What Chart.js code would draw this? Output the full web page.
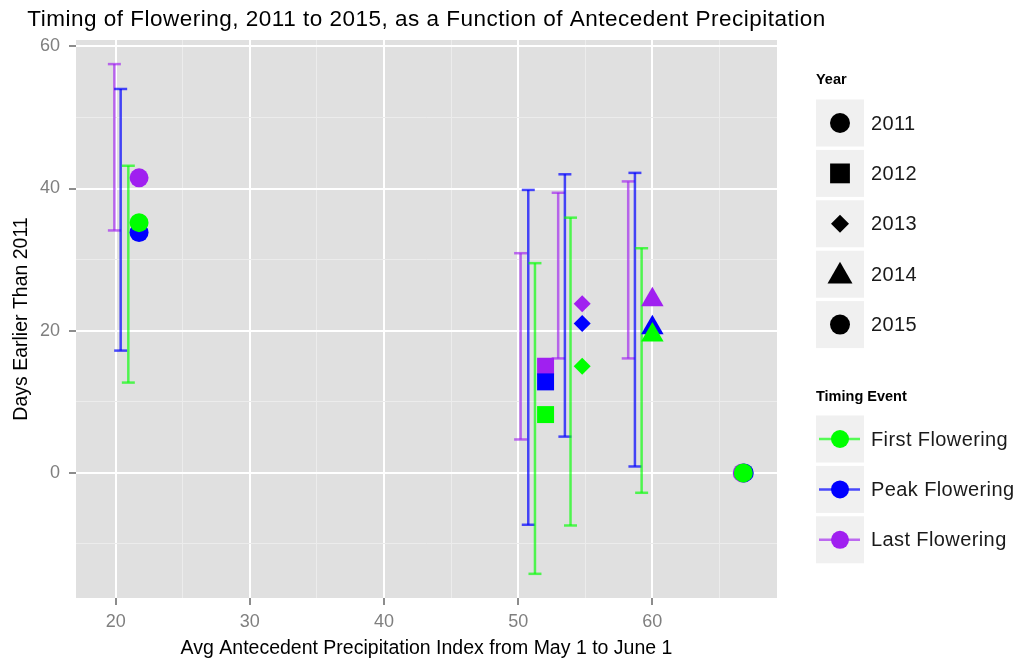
<!DOCTYPE html>
<html>
<head>
<meta charset="utf-8">
<title>Timing of Flowering</title>
<script src="https://cdn.jsdelivr.net/npm/chart.js@4.4.1/dist/chart.umd.min.js"></script>
<style>
  html, body { margin:0; padding:0; background:#fff; }
  #wrap { width:1018px; height:662px; position:relative; }
</style>
</head>
<body>
<div id="wrap"><canvas id="chart"></canvas></div>
<script>
const years      = ['2011','2012','2013','2014','2015'];
const yearShapes = ['circle','rect','rectRot','triangle','circle'];
const events     = ['First Flowering','Peak Flowering','Last Flowering'];

// points: precipitation index (x) and days earlier than 2011 (y), per year
const firstX = [66.78, 52.04, 54.77, 60.0, 21.74];
const firstY = [0, 8.2, 15.0, 19.4, 35.2];
const peakX  = [66.85, 52.04, 54.77, 60.0, 21.74];
const peakY  = [0, 12.8, 21.0, 20.4, 33.8];
const lastX  = [66.70, 52.04, 54.77, 60.0, 21.74];
const lastY  = [0, 15.0, 23.8, 24.35, 41.5];

// error bars, years 2012..2015
const firstBarX  = [51.25, 53.9, 59.2, 20.94];
const firstBarLo = [-14.2, -7.4, -2.8, 12.7];
const firstBarHi = [29.5, 35.9, 31.6, 43.2];
const peakBarX   = [50.75, 53.48, 58.7, 20.37];
const peakBarLo  = [-7.3, 5.1, 0.9, 17.2];
const peakBarHi  = [39.8, 42.0, 42.2, 54.0];
const lastBarX   = [50.18, 52.98, 58.2, 19.9];
const lastBarLo  = [4.7, 16.1, 16.1, 34.1];
const lastBarHi  = [30.9, 39.4, 41.0, 57.5];

const xTicks = [20, 30, 40, 50, 60];
const xMinor = [25, 35, 45, 55, 65];
const yTicks = [0, 20, 40, 60];
const yMinor = [-10, 10, 30, 50];

const FONT = '"Liberation Sans", Arial, sans-serif';
const colors    = ['#00ff00', '#0000ff', '#a020f0'];
const barColors = ['rgba(0,255,0,.65)', 'rgba(0,0,255,.7)', 'rgba(160,32,240,.65)'];
const shapeSize = { circle:9.5, rect:12, rectRot:8.5, triangle:13 };

const pointSets = [[firstX, firstY], [peakX, peakY], [lastX, lastY]];
const barSets = [
  [firstBarX, firstBarLo, firstBarHi],
  [peakBarX, peakBarLo, peakBarHi],
  [lastBarX, lastBarLo, lastBarHi]
];

const datasets = [];
pointSets.forEach(([xs, ys], i) => {
  datasets.push({
    label: events[i],
    data: xs.map((x, k) => ({x, y: ys[k]})),
    backgroundColor: colors[i],
    pointBackgroundColor: colors[i],
    pointBorderWidth: 0,
    pointStyle: yearShapes,
    pointRadius: yearShapes.map(s => shapeSize[s]),
    showLine: false,
    order: i
  });
});
barSets.forEach(([xs, lo, hi], i) => {
  const d = [];
  xs.forEach((x, k) => { d.push({x, y: lo[k]}, {x, y: hi[k]}, {x, y: null}); });
  datasets.push({
    label: events[i] + ' range',
    data: d,
    showLine: true,
    spanGaps: false,
    borderColor: barColors[i],
    borderWidth: 2.5,
    pointStyle: 'line',
    pointRadius: 6.5,
    pointBorderWidth: 2.5,
    pointBorderColor: barColors[i],
    order: 10 + i
  });
});

const isMajor = (v, list) => list.includes(v);

const ggPanel = {
  id: 'ggPanel',
  beforeDraw(chart) {
    const {ctx, chartArea: a} = chart;
    ctx.save();
    ctx.fillStyle = '#fff';
    ctx.fillRect(0, 0, chart.width, chart.height);
    ctx.fillStyle = '#e0e0e0';
    ctx.fillRect(a.left, a.top, a.right - a.left, a.bottom - a.top);
    ctx.restore();
  },
  afterDraw(chart) {
    const {ctx, chartArea: a} = chart;
    ctx.save();
    // title
    ctx.fillStyle = '#000';
    ctx.font = '22.5px ' + FONT;
    ctx.letterSpacing = '0.5px';
    ctx.textAlign = 'center';
    ctx.textBaseline = 'middle';
    ctx.fillText('Timing of Flowering, 2011 to 2015, as a Function of Antecedent Precipitation', (a.left + a.right) / 2, 20);

    // legend: Year
    const kx = 816, kw = 48, kh = 47, step = 50.4;
    ctx.textAlign = 'left';
    ctx.letterSpacing = '0px';
    ctx.font = 'bold 14.5px ' + FONT;
    ctx.fillText('Year', kx, 80);
    years.forEach((yr, i) => {
      const top = 99.5 + i * step;
      ctx.fillStyle = '#f0f0f0';
      ctx.fillRect(kx, top, kw, kh);
      ctx.fillStyle = '#000';
      const st = yearShapes[i];
      const r = {circle:10, rect:14, rectRot:9, triangle:14.4}[st];
      const cy = top + kh / 2 + (st === 'triangle' ? 2 : 0);
      Chart.helpers.drawPoint(ctx, {pointStyle: st, radius: r, rotation: 0, borderWidth: 0}, kx + 24, cy);
      ctx.font = '20px ' + FONT;
      ctx.letterSpacing = '0.4px';
      ctx.fillStyle = '#1a1a1a';
      ctx.fillText(yr, 871, top + kh / 2 + 1);
      ctx.letterSpacing = '0px';
    });

    // legend: Timing Event
    ctx.font = 'bold 14.5px ' + FONT;
    ctx.fillStyle = '#000';
    ctx.fillText('Timing Event', kx, 397);
    events.forEach((ev, i) => {
      const top = 415.5 + i * step;
      const cy = top + kh / 2;
      ctx.fillStyle = '#f0f0f0';
      ctx.fillRect(kx, top, kw, kh);
      ctx.strokeStyle = barColors[i];
      ctx.lineWidth = 2.5;
      ctx.beginPath();
      ctx.moveTo(kx + 3, cy);
      ctx.lineTo(kx + kw - 4, cy);
      ctx.stroke();
      ctx.fillStyle = colors[i];
      ctx.beginPath();
      ctx.arc(kx + 24, cy, 9, 0, Math.PI * 2);
      ctx.fill();
      ctx.font = '20px ' + FONT;
      ctx.letterSpacing = '0.4px';
      ctx.fillStyle = '#1a1a1a';
      ctx.fillText(ev, 871, cy + 1);
      ctx.letterSpacing = '0px';
    });
    ctx.restore();
  }
};

new Chart(document.getElementById('chart'), {
  type: 'scatter',
  data: { datasets },
  options: {
    responsive: true,
    maintainAspectRatio: false,
    animation: false,
    events: [],
    layout: { padding: { top: 40, right: 241, left: 0, bottom: 0 } },
    plugins: { legend: { display: false }, tooltip: { enabled: false }, title: { display: false } },
    scales: {
      x: {
        type: 'linear',
        min: 17.04, max: 69.29,
        afterBuildTicks: s => { s.ticks = xTicks.concat(xMinor).sort((a, b) => a - b).map(v => ({value: v})); },
        afterFit: s => { s.height = 64; },
        border: { display: false },
        grid: {
          color: c => isMajor(c.tick.value, xTicks) ? '#ffffff' : '#ececec',
          lineWidth: c => isMajor(c.tick.value, xTicks) ? 2 : 1,
          tickColor: c => isMajor(c.tick.value, xTicks) ? '#666' : 'rgba(0,0,0,0)',
          tickWidth: 1.5,
          tickLength: 7
        },
        ticks: {
          autoSkip: false, maxRotation: 0,
          padding: 6,
          color: '#7f7f7f',
          font: { family: FONT, size: 18 },
          callback: v => isMajor(v, xTicks) ? String(v) : ''
        },
        title: {
          display: true,
          text: 'Avg Antecedent Precipitation Index from May 1 to June 1',
          color: '#000',
          font: { family: FONT, size: 19.5 },
          padding: { top: 0, bottom: 2 }
        }
      },
      y: {
        type: 'linear',
        min: -17.6, max: 60.89,
        afterBuildTicks: s => { s.ticks = yTicks.concat(yMinor).sort((a, b) => a - b).map(v => ({value: v})); },
        afterFit: s => { s.width = 76; },
        border: { display: false },
        grid: {
          color: c => isMajor(c.tick.value, yTicks) ? '#ffffff' : '#ececec',
          lineWidth: c => isMajor(c.tick.value, yTicks) ? 2 : 1,
          tickColor: c => isMajor(c.tick.value, yTicks) ? '#666' : 'rgba(0,0,0,0)',
          tickWidth: 1.5,
          tickLength: 7
        },
        ticks: {
          autoSkip: false,
          padding: 9,
          color: '#7f7f7f',
          font: { family: FONT, size: 18 },
          callback: v => isMajor(v, yTicks) ? String(v) : ''
        },
        title: {
          display: true,
          text: 'Days Earlier Than 2011',
          color: '#000',
          font: { family: FONT, size: 19.5 },
          padding: { top: 10, bottom: 0 }
        }
      }
    }
  },
  plugins: [ggPanel]
});
</script>
</body>
</html>
